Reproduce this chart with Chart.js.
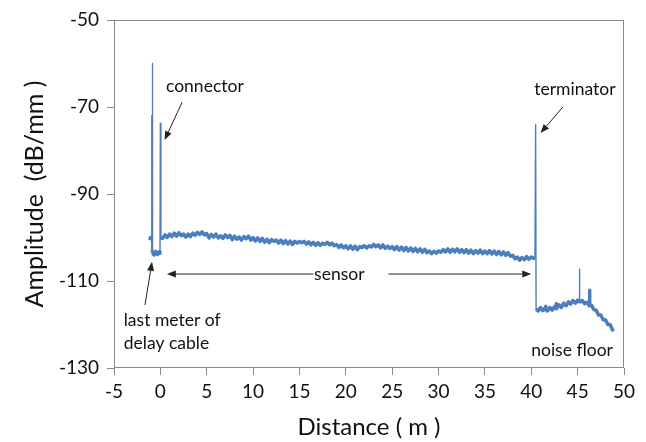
<!DOCTYPE html>
<html>
<head>
<meta charset="utf-8">
<script src="https://cdn.jsdelivr.net/npm/chart.js@4/dist/chart.umd.min.js"></script>
<style>
  html, body { margin: 0; padding: 0; background: #fff; }
  #wrap { width: 646px; height: 442px; }
</style>
</head>
<body>
<div id="wrap"><canvas id="otdr" width="646" height="442"></canvas></div>
<script>
// OTDR-style trace: amplitude (dB/mm) along the fibre distance (m)

// lead-in: last meter of delay cable + connector reflections
const leadDistance = [-1.15, -1.05, -0.95, -0.94, -0.91, -0.86, -0.85, -0.84, -0.7, -0.5, -0.3, -0.12, -0.04, 0.0, 0.06];
const leadAmplitude = [-100.6, -100.0, -100.5, -72.0, -103.0, -103.4, -60.0, -103.5, -104.0, -103.2, -103.9, -103.3, -103.6, -73.7, -100.2];

// sensor section, one reading every 0.25 m starting at 0.25 m
const sensorStep = 0.25;
const sensorAmplitude = [
  -100.2, -99.4, -100.0, -99.2, -99.8, -99.0, -99.7, -98.9, -99.6, -99.2,
  -99.9, -99.2, -99.8, -99.0, -99.5, -98.8, -99.3, -98.7, -99.4, -99.1,
  -100.1, -99.3, -99.9, -99.2, -100.1, -99.6, -100.2, -99.4, -100.0, -99.5,
  -100.5, -99.7, -100.4, -99.9, -100.6, -99.8, -100.3, -99.7, -100.6, -100.0,
  -100.8, -100.1, -100.9, -100.2, -101.1, -100.4, -101.2, -100.5, -100.9, -100.6,
  -101.3, -100.6, -101.4, -100.7, -101.5, -100.8, -101.6, -100.9, -101.3, -100.9,
  -101.2, -100.9, -101.5, -101.0, -101.7, -101.1, -101.8, -101.2, -101.8, -101.3,
  -101.6, -101.1, -101.7, -101.3, -101.9, -101.6, -102.3, -101.7, -102.4, -101.9,
  -102.6, -101.9, -102.7, -102.0, -102.8, -102.1, -102.3, -101.9, -102.4, -101.9,
  -102.2, -101.6, -102.1, -101.7, -102.4, -101.7, -102.5, -102.0, -102.5, -102.1,
  -102.8, -102.1, -102.9, -102.2, -103.0, -102.3, -103.1, -102.4, -103.2, -102.5,
  -103.3, -102.6, -103.4, -102.7, -103.5, -103.1, -103.7, -103.2, -103.6, -103.1,
  -103.4, -102.8, -103.3, -102.6, -103.4, -102.7, -103.3, -102.6, -103.4, -102.8,
  -103.5, -102.8, -103.6, -102.9, -103.7, -103.0, -103.6, -102.9, -103.7, -103.1,
  -103.7, -103.0, -103.8, -103.1, -103.9, -103.2, -104.0, -103.3, -104.1, -103.5,
  -104.3, -104.1, -104.9, -104.5, -105.2, -104.6, -105.1, -104.4, -105.0, -104.5,
  -104.8
];

// terminator reflection and the noise floor behind it
const tailDistance = [
  40.4, 40.47, 40.52, 40.75, 41.0, 41.25, 41.5, 41.54, 41.56, 41.58, 41.75, 42.0, 42.25, 42.5,
  42.68, 42.7, 42.72, 43.0, 43.25, 43.5, 43.75, 44.0, 44.25, 44.5, 44.75, 45.0,
  45.18, 45.2, 45.22, 45.5, 45.75, 46.0, 46.25, 46.28, 46.3, 46.32, 46.5, 46.75,
  47.0, 47.25, 47.5, 47.75, 48.0, 48.25, 48.5, 48.75, 48.9
];
const tailAmplitude = [
  -104.6, -74.0, -116.4, -116.9, -116.1, -116.8, -116.2, -116.6, -115.8, -116.6, -116.9, -116.1, -116.7, -115.9,
  -116.4, -115.2, -116.3, -115.5, -116.1, -115.1, -115.7, -114.8, -115.3, -114.5, -115.1, -114.4,
  -115.0, -107.3, -114.9, -114.5, -115.2, -114.9, -115.7, -115.5, -112.1, -115.6, -115.6, -116.6,
  -116.7, -117.8, -117.8, -118.9, -118.9, -120.0, -120.0, -121.2, -121.5
];

const xTicksMin = -5, xTicksMax = 50, xStep = 5;
const yTicksMin = -130, yTicksMax = -50, yStep = 20;

const points = [];
leadDistance.forEach((d, i) => points.push({ x: d, y: leadAmplitude[i] }));
sensorAmplitude.forEach((v, i) => points.push({ x: sensorStep * (i + 1), y: v }));
tailDistance.forEach((d, i) => points.push({ x: d, y: tailAmplitude[i] }));

const FONT = 'Lato, "Open Sans", sans-serif';

function arrow(ctx, x1, y1, x2, y2) {
    const ang = Math.atan2(y2 - y1, x2 - x1);
    const len = 9, half = 3.5;
    const bx = x2 - Math.cos(ang) * len, by = y2 - Math.sin(ang) * len;
    ctx.beginPath();
    ctx.moveTo(x1, y1);
    ctx.lineTo(bx, by);
    ctx.stroke();
    ctx.beginPath();
    ctx.moveTo(x2, y2);
    ctx.lineTo(bx - Math.sin(ang) * half, by + Math.cos(ang) * half);
    ctx.lineTo(bx + Math.sin(ang) * half, by - Math.cos(ang) * half);
    ctx.closePath();
    ctx.fill();
}

// frame + callouts, placed in data units through the scales
const callouts = {
    id: 'callouts',
    afterDatasetsDraw(chart) {
        const { ctx, chartArea: a, scales: { x, y } } = chart;
        const px = d => x.getPixelForValue(d), py = v => y.getPixelForValue(v);
        ctx.save();
        ctx.strokeStyle = '#8a8a8a';
        ctx.lineWidth = 1;
        ctx.strokeRect(Math.round(a.left) + 0.5, Math.round(a.top) + 0.5, Math.round(a.width) - 1, Math.round(a.height) - 1);

        ctx.fillStyle = '#111';
        ctx.font = '17.5px ' + FONT;
        ctx.textBaseline = 'middle';
        ctx.textAlign = 'center';
        ctx.fillText('connector', px(4.8), py(-65.2));
        ctx.fillText('terminator', px(44.7), py(-65.9));
        ctx.fillText('sensor', px(19.3), py(-108.4));
        ctx.fillText('noise floor', px(44.4), py(-125.9));
        ctx.textAlign = 'left';
        ctx.fillText('last meter of', px(-3.95), py(-119.0));
        ctx.fillText('delay cable', px(-3.95), py(-124.3));

        ctx.strokeStyle = '#222';
        ctx.fillStyle = '#222';
        arrow(ctx, px(2.35), py(-68.9), px(0.45), py(-77.6));
        arrow(ctx, px(43.4), py(-70.0), px(41.0), py(-76.0));
        arrow(ctx, px(16.5), py(-108.4), px(0.7), py(-108.4));
        arrow(ctx, px(24.6), py(-108.4), px(40.0), py(-108.4));
        arrow(ctx, px(-1.66), py(-115.5), px(-0.9), py(-105.6));
        ctx.restore();
    }
};

new Chart(document.getElementById('otdr').getContext('2d'), {
    type: 'scatter',
    data: {
        datasets: [{
            data: points,
            showLine: true,
            pointRadius: 0,
            borderColor: '#4a7ebf',
            borderWidth: 3.5,
            borderJoinStyle: 'round',
            segment: {
                // reflections are thin single samples
                borderWidth: c => Math.abs(c.p1.parsed.y - c.p0.parsed.y) > 4 ? 1.4 : 3.5
            }
        }]
    },
    options: {
        responsive: false,
        animation: false,
        layout: { padding: { top: 20, right: 22, left: 0, bottom: 0 } },
        plugins: { legend: { display: false }, tooltip: { enabled: false } },
        scales: {
            x: {
                type: 'linear',
                min: xTicksMin, max: xTicksMax,
                ticks: { stepSize: xStep, color: '#111', font: { family: FONT, size: 19 }, padding: 5 },
                grid: { display: true, drawOnChartArea: false, drawTicks: true, tickLength: 7, color: '#8a8a8a' },
                border: { display: false },
                title: { display: true, text: 'Distance ( m )', color: '#111', font: { family: FONT, size: 24 }, padding: { top: 0, bottom: 0 } },
                afterFit: s => { s.height = 74; }
            },
            y: {
                type: 'linear',
                min: yTicksMin, max: yTicksMax,
                ticks: { stepSize: yStep, color: '#111', font: { family: FONT, size: 19 }, padding: 8 },
                grid: { display: true, drawOnChartArea: false, drawTicks: true, tickLength: 7, color: '#8a8a8a' },
                border: { display: false },
                title: { display: true, text: 'Amplitude  (dB/mm )', color: '#111', font: { family: FONT, size: 25 }, padding: { top: 20, bottom: 0 } },
                afterFit: s => { s.width = 114; }
            }
        }
    },
    plugins: [callouts]
});
</script>
</body>
</html>
